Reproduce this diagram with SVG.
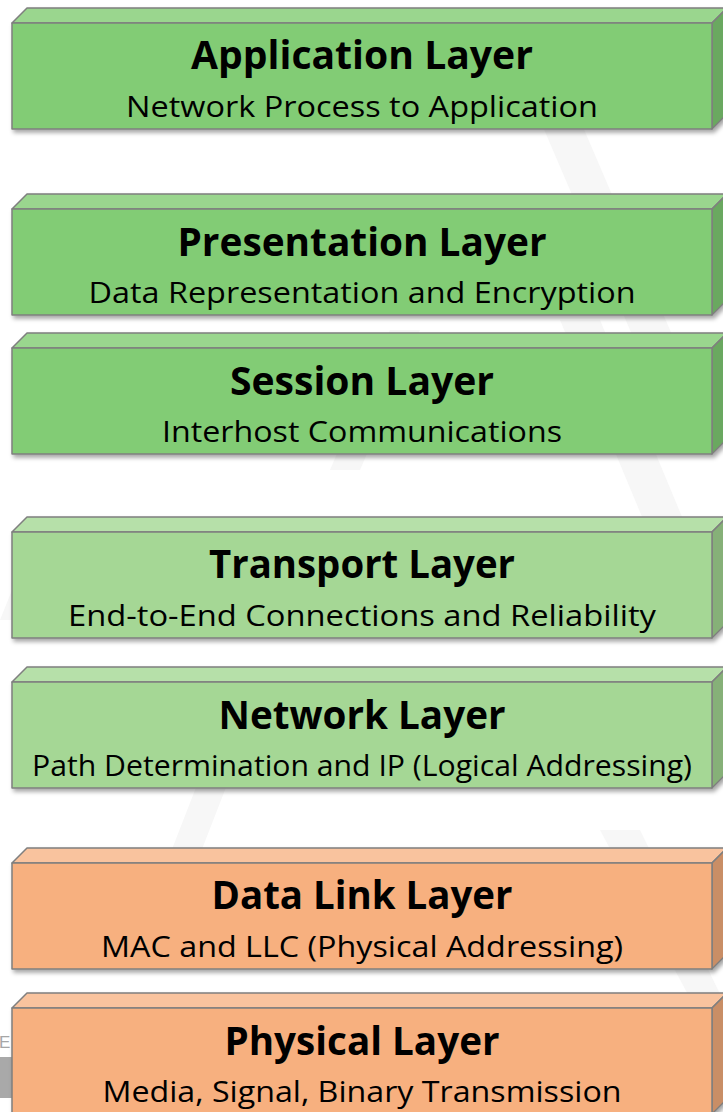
<svg xmlns="http://www.w3.org/2000/svg" width="723" height="1112" viewBox="0 0 723 1112">
  <defs>
    <filter id="shadow" x="-5%" y="-20%" width="115%" height="150%">
      <feDropShadow dx="2" dy="3" stdDeviation="2" flood-color="#000" flood-opacity="0.35"/>
    </filter>
    <style>
      .edge { stroke: #7f7f7f; stroke-width: 1.5; stroke-linejoin: round; }
      .g1 .front { fill: #82cc75; } .g1 .top { fill: #9ad68e; } .g1 .side { fill: #6ba860; }
      .g2 .front { fill: #a5d795; } .g2 .top { fill: #b6e0a9; } .g2 .side { fill: #86b078; }
      .o1 .front { fill: #f7b07f; } .o1 .top { fill: #f9c39e; } .o1 .side { fill: #c98e66; }
      .title { font-family: "Open Sans", "Noto Sans", sans-serif; font-weight: 700; font-size: 40px; fill: #000; text-anchor: middle; }
      .sub { font-family: "Open Sans", "Noto Sans", sans-serif; font-weight: 400; font-size: 30px; fill: #000; text-anchor: middle; }
      .wm { fill: #f7f7f7; }
    </style>
  </defs>

  <rect width="723" height="1112" fill="#ffffff"/>

  <!-- faint background emblem -->
  <g id="emblem">
    <polygon class="wm" points="330,470 390,330 420,330 360,470"/>
    <polygon class="wm" points="540,120 580,120 700,400 660,400"/>
    <polygon class="wm" points="560,320 600,320 700,560 660,560"/>
    <polygon class="wm" points="0,620 40,520 70,520 30,620"/>
    <polygon class="wm" points="160,880 230,700 260,700 190,880"/>
    <polygon class="wm" points="600,830 640,830 723,1000 723,1060"/>
    <text x="-1" y="1048" font-family="Liberation Sans, sans-serif" font-size="17" fill="#a6a6a6">E</text>
    <rect x="0" y="1057" width="14" height="41" fill="#a9a9a9"/>
  </g>

  <!-- each layer: front face 700x106 at (12,y), with a 15px top bevel and right side -->
  <g id="application" class="g1">
    <g transform="translate(12,23)" filter="url(#shadow)">
      <polygon class="top edge" points="0,0 15,-15 715,-15 700,0"/>
      <polygon class="side edge" points="700,0 715,-15 715,91 700,106"/>
      <rect class="front edge" x="0" y="0" width="700" height="106"/>
    </g>
    <text class="title" x="362" y="69" textLength="342" lengthAdjust="spacingAndGlyphs">Application Layer</text>
    <text class="sub" x="362" y="117" textLength="472" lengthAdjust="spacingAndGlyphs">Network Process to Application</text>
  </g>

  <g id="presentation" class="g1">
    <g transform="translate(12,209)" filter="url(#shadow)">
      <polygon class="top edge" points="0,0 15,-15 715,-15 700,0"/>
      <polygon class="side edge" points="700,0 715,-15 715,91 700,106"/>
      <rect class="front edge" x="0" y="0" width="700" height="106"/>
    </g>
    <text class="title" x="362" y="256" textLength="369" lengthAdjust="spacingAndGlyphs">Presentation Layer</text>
    <text class="sub" x="362" y="303" textLength="547" lengthAdjust="spacingAndGlyphs">Data Representation and Encryption</text>
  </g>

  <g id="session" class="g1">
    <g transform="translate(12,348)" filter="url(#shadow)">
      <polygon class="top edge" points="0,0 15,-15 715,-15 700,0"/>
      <polygon class="side edge" points="700,0 715,-15 715,91 700,106"/>
      <rect class="front edge" x="0" y="0" width="700" height="106"/>
    </g>
    <text class="title" x="362" y="395" textLength="264" lengthAdjust="spacingAndGlyphs">Session Layer</text>
    <text class="sub" x="362" y="442" textLength="400" lengthAdjust="spacingAndGlyphs">Interhost Communications</text>
  </g>

  <g id="transport" class="g2">
    <g transform="translate(12,532)" filter="url(#shadow)">
      <polygon class="top edge" points="0,0 15,-15 715,-15 700,0"/>
      <polygon class="side edge" points="700,0 715,-15 715,91 700,106"/>
      <rect class="front edge" x="0" y="0" width="700" height="106"/>
    </g>
    <text class="title" x="362" y="578" textLength="306" lengthAdjust="spacingAndGlyphs">Transport Layer</text>
    <text class="sub" x="362" y="626" textLength="588" lengthAdjust="spacingAndGlyphs">End-to-End Connections and Reliability</text>
  </g>

  <g id="network" class="g2">
    <g transform="translate(12,682)" filter="url(#shadow)">
      <polygon class="top edge" points="0,0 15,-15 715,-15 700,0"/>
      <polygon class="side edge" points="700,0 715,-15 715,91 700,106"/>
      <rect class="front edge" x="0" y="0" width="700" height="106"/>
    </g>
    <text class="title" x="362" y="729" textLength="287" lengthAdjust="spacingAndGlyphs">Network Layer</text>
    <text class="sub" x="362" y="776" textLength="660" lengthAdjust="spacingAndGlyphs">Path Determination and IP (Logical Addressing)</text>
  </g>

  <g id="datalink" class="o1">
    <g transform="translate(12,863)" filter="url(#shadow)">
      <polygon class="top edge" points="0,0 15,-15 715,-15 700,0"/>
      <polygon class="side edge" points="700,0 715,-15 715,91 700,106"/>
      <rect class="front edge" x="0" y="0" width="700" height="106"/>
    </g>
    <text class="title" x="362" y="909" textLength="301" lengthAdjust="spacingAndGlyphs">Data Link Layer</text>
    <text class="sub" x="362" y="957" textLength="522" lengthAdjust="spacingAndGlyphs">MAC and LLC (Physical Addressing)</text>
  </g>

  <g id="physical" class="o1">
    <g transform="translate(12,1008)" filter="url(#shadow)">
      <polygon class="top edge" points="0,0 15,-15 715,-15 700,0"/>
      <polygon class="side edge" points="700,0 715,-15 715,91 700,106"/>
      <rect class="front edge" x="0" y="0" width="700" height="106"/>
    </g>
    <text class="title" x="362" y="1055" textLength="275" lengthAdjust="spacingAndGlyphs">Physical Layer</text>
    <text class="sub" x="362" y="1102" textLength="519" lengthAdjust="spacingAndGlyphs">Media, Signal, Binary Transmission</text>
  </g>

  <!-- stacked layers have no linking connectors -->
  <g id="connectors"/>
</svg>
